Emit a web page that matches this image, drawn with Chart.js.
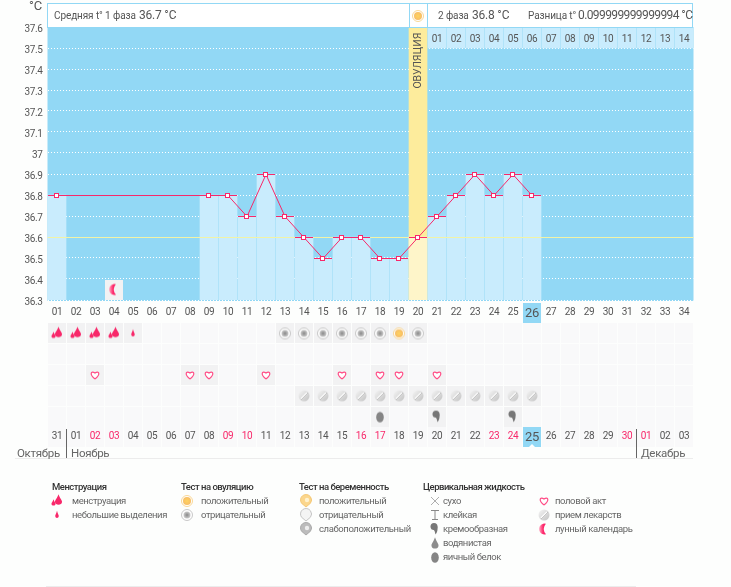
<!DOCTYPE html>
<html lang="ru">
<head>
<meta charset="utf-8">
<title>График температуры</title>
<script src="https://cdn.jsdelivr.net/npm/chart.js@4"></script>
<style>
  html, body { margin: 0; background: #fdfefd; }
  #page { position: relative; width: 731px; height: 587px; overflow: hidden; font-family: Roboto, sans-serif; color: #555; }
  #page canvas.chart { position: absolute; left: 0; }
  .abs { position: absolute; white-space: nowrap; }
  .box { position: absolute; top: 3px; height: 23px; background: #fff; border: 1px solid #92d8f5; box-sizing: content-box; }
  .hdr { font-size: 10px; line-height: 14px; letter-spacing: -0.1px; }
  .val { font-size: 12px; line-height: 14px; letter-spacing: -0.2px; }
  .long { letter-spacing: -0.6px; }
  .unit { font-size: 13px; line-height: 14px; }
  .leg { font-size: 9.5px; line-height: 14px; color: #666; letter-spacing: -0.4px; }
  .title { font-size: 9.5px; line-height: 14px; color: #333; font-weight: 500; letter-spacing: -0.5px; }
  .month { font-size: 11.5px; line-height: 14px; color: #666; letter-spacing: -0.3px; }
</style>
</head>
<body>
<div id="page">
  <canvas class="chart" id="tempChart" width="731" height="323" style="top:0"></canvas>
  <canvas class="chart" id="marksChart" width="731" height="130" style="top:320px"></canvas>
</div>
<script>
const cycleDays = ['01','02','03','04','05','06','07','08','09','10','11','12','13','14','15','16','17','18','19','20','21','22','23','24','25','26','27','28','29','30','31','32','33','34'];
const temperatures = [36.8,null,null,null,null,null,null,null,36.8,36.8,36.7,36.9,36.7,36.6,36.5,36.6,36.6,36.5,36.5,36.6,36.7,36.8,36.9,36.8,36.9,36.8,null,null,null,null,null,null,null,null];
const calendarDays = ['31','01','02','03','04','05','06','07','08','09','10','11','12','13','14','15','16','17','18','19','20','21','22','23','24','25','26','27','28','29','30','01','02','03'];
const redDates = [2,3,9,10,16,17,23,24,30,31];
const phaseTwoDays = ['01','02','03','04','05','06','07','08','09','10','11','12','13','14'];
const ovulationIndex = 19;
const todayIndex = 25;
const moonDays = [3];

const rows = ['tests','blank','sex','pills','fluid'];
const mensesBig = [0,1,2,3];
const mensesSmall = [4];
const testNegative = [12,13,14,15,16,17,19];
const testPositive = [18];
const hearts = [2,7,8,11,15,17,18,20];
const pills = [13,14,15,16,17,18,19,20,21,22,23,24,25];
const fluidEgg = [17];
const fluidCream = [20,24];

const PINK = '#f8286a';
const SKY = '#92d8f5';
const PALE = '#c9ecfd';
const CELL = '#f2f2f3';

function drop(c, x, y, w, h, color) {
  c.fillStyle = color;
  c.beginPath();
  c.moveTo(x, y - h * 0.62);
  c.bezierCurveTo(x + w * 0.2, y - h * 0.2, x + w * 0.55, y, x + w * 0.5, y + h * 0.15);
  c.bezierCurveTo(x + w * 0.5, y + h * 0.5, x - w * 0.5, y + h * 0.5, x - w * 0.5, y + h * 0.15);
  c.bezierCurveTo(x - w * 0.55, y, x - w * 0.2, y - h * 0.2, x, y - h * 0.62);
  c.fill();
}

function ring(c, x, y, outer, inner, edge, core) {
  c.fillStyle = '#fff';
  c.strokeStyle = edge;
  c.lineWidth = 1;
  c.beginPath(); c.arc(x, y, outer, 0, Math.PI * 2); c.fill(); c.stroke();
  const g = c.createRadialGradient(x, y, 0, x, y, inner);
  g.addColorStop(0, core[0]);
  g.addColorStop(1, core[1]);
  c.fillStyle = g;
  c.beginPath(); c.arc(x, y, inner, 0, Math.PI * 2); c.fill();
}

function tag(c, x, y, fill, edge) {
  c.fillStyle = fill;
  c.strokeStyle = edge;
  c.lineWidth = 1;
  c.beginPath();
  c.arc(x, y - 1, 5.5, Math.PI * 0.8, Math.PI * 0.2);
  c.lineTo(x, y + 6);
  c.closePath();
  c.fill(); c.stroke();
}

const iconDraw = {
  mensBig(c, x, y) { drop(c, x + 1.5, y - 0.5, 7, 10, PINK); drop(c, x - 3.5, y + 2, 4, 6, PINK); },
  mensSmall(c, x, y) { drop(c, x, y, 3.5, 7, PINK); },
  ovPos(c, x, y) { ring(c, x, y, 5.5, 4, '#f8d796', ['#ffd35f', '#f7bd66']); },
  ovNeg(c, x, y) { ring(c, x, y, 5.5, 3.5, '#c8c8c8', ['#888', '#ccc']); },
  heart(c, x, y) {
    c.strokeStyle = '#ff4d86';
    c.fillStyle = '#fff';
    c.lineWidth = 1.2;
    c.beginPath();
    c.moveTo(x, y + 4);
    c.bezierCurveTo(x - 6, y - 0.5, x - 4, y - 5, x, y - 2);
    c.bezierCurveTo(x + 4, y - 5, x + 6, y - 0.5, x, y + 4);
    c.fill(); c.stroke();
  },
  pill(c, x, y) {
    const g = c.createLinearGradient(x - 5, y - 5, x + 5, y + 5);
    g.addColorStop(0, '#f4f4f4');
    g.addColorStop(1, '#c4c4c4');
    c.fillStyle = g;
    c.beginPath(); c.arc(x, y, 5.5, 0, Math.PI * 2); c.fill();
    c.strokeStyle = '#fff';
    c.lineWidth = 1.5;
    c.beginPath(); c.moveTo(x - 3, y + 3); c.lineTo(x + 3, y - 3); c.stroke();
    c.strokeStyle = '#aaa';
    c.lineWidth = 0.6;
    c.beginPath(); c.moveTo(x - 3, y + 4); c.lineTo(x + 4, y - 3); c.stroke();
  },
  moon(c, x, y) {
    const g = c.createLinearGradient(x - 5, y, x + 3, y);
    g.addColorStop(0, '#ffb0c8');
    g.addColorStop(0.5, '#ff2a6c');
    g.addColorStop(1, '#f0246a');
    c.fillStyle = g;
    c.beginPath();
    c.arc(x + 0.5, y, 5.5, Math.PI * 0.42, Math.PI * 1.58);
    c.quadraticCurveTo(x - 2.5, y, x + 2, y + 5.2);
    c.fill();
  },
  egg(c, x, y) {
    c.fillStyle = '#858585';
    c.beginPath(); c.ellipse(x, y + 0.5, 3.8, 5.3, 0, 0, Math.PI * 2); c.fill();
  },
  cream(c, x, y) {
    c.fillStyle = '#777';
    c.beginPath(); c.arc(x - 1, y - 2.5, 3.5, 0, Math.PI * 2); c.fill();
    c.beginPath();
    c.moveTo(x + 2.5, y - 2.5);
    c.quadraticCurveTo(x + 3, y + 3, x + 0.5, y + 5.5);
    c.quadraticCurveTo(x + 0.5, y + 2, x - 2, y);
    c.fill();
  },
  water(c, x, y) { drop(c, x, y + 1, 7, 11, '#8c8c8c'); },
  dry(c, x, y) {
    c.strokeStyle = '#999';
    c.lineWidth = 0.8;
    c.beginPath();
    c.moveTo(x - 4, y - 4); c.lineTo(x + 4, y + 4);
    c.moveTo(x + 4, y - 4); c.lineTo(x - 4, y + 4);
    c.stroke();
  },
  sticky(c, x, y) {
    c.strokeStyle = '#888';
    c.lineWidth = 1;
    c.beginPath();
    c.moveTo(x - 4, y - 4.5); c.lineTo(x + 4, y - 4.5);
    c.moveTo(x, y - 4.5); c.lineTo(x, y + 4);
    c.moveTo(x - 3, y + 4.5); c.lineTo(x + 3, y + 4.5);
    c.stroke();
  },
  pregPos(c, x, y) { tag(c, x, y, '#fbd68c', '#f4c877'); c.fillStyle = '#fff2cf'; c.beginPath(); c.arc(x + 1, y - 1, 2.2, 0, Math.PI * 2); c.fill(); },
  pregNeg(c, x, y) { tag(c, x, y, '#f4f4f4', '#c4c4c4'); },
  pregWeak(c, x, y) { tag(c, x, y, '#bcbcbc', '#aaa'); c.fillStyle = '#eee'; c.beginPath(); c.arc(x + 1, y - 1, 2.2, 0, Math.PI * 2); c.fill(); }
};

function makeIcon(name, withCell) {
  const cv = document.createElement('canvas');
  cv.width = 18;
  cv.height = 20;
  const c = cv.getContext('2d');
  if (withCell) {
    c.fillStyle = CELL;
    c.fillRect(0, 0, 18, 20);
  }
  iconDraw[name](c, 9, 10);
  return cv;
}

// crisp point images, built from canvases so they land on whole pixels
function makeLevelTick() {
  const cv = document.createElement('canvas');
  cv.width = 18;
  cv.height = 2;
  const c = cv.getContext('2d');
  c.fillStyle = PINK;
  c.fillRect(0, 1, 18, 1);
  return cv;
}

function makeMarker() {
  const cv = document.createElement('canvas');
  cv.width = 6;
  cv.height = 6;
  const c = cv.getContext('2d');
  c.fillStyle = PINK;
  c.fillRect(0, 1, 5, 5);
  c.fillStyle = '#fff';
  c.fillRect(1, 2, 3, 3);
  return cv;
}

// canvas text in the reference is tighter than Roboto's default
function tightText(chart) {
  chart.ctx.letterSpacing = '-0.4px';
}

// ---- temperature chart ----
const areaPlugin = {
  id: 'area',
  beforeDraw(chart) {
    const { ctx, chartArea: a, scales } = chart;
    tightText(chart);
    ctx.save();
    ctx.fillStyle = SKY;
    ctx.fillRect(a.left, a.top, a.width, a.height + 1);
    // today's box behind the tick label
    ctx.fillRect(scales.x.getPixelForTick(todayIndex) - 9, a.bottom + 3, 18, 20);
    ctx.restore();
  },
  beforeDatasetDraw(chart, args) {
    // half pixel nudge keeps the flat stretches of the curve sharp
    if (chart.data.datasets[args.index].label === 'Кривая') {
      chart.ctx.save();
      chart.ctx.translate(0, 0.5);
    }
  },
  afterDatasetDraw(chart, args) {
    const label = chart.data.datasets[args.index].label;
    if (label === 'Кривая') chart.ctx.restore();
    // yellow norm line runs over the bars but under the curve
    if (label !== 'Температура') return;
    const { ctx, chartArea: a, scales } = chart;
    const y = Math.round(scales.y.getPixelForValue(36.6)) + 0.5;
    ctx.save();
    ctx.strokeStyle = '#f2f3a6';
    ctx.lineWidth = 1;
    ctx.beginPath(); ctx.moveTo(a.left, y); ctx.lineTo(a.right, y); ctx.stroke();
    ctx.restore();
  },
  afterDraw(chart) {
    const { ctx, scales } = chart;
    ctx.save();
    ctx.fillStyle = '#555';
    ctx.font = '10px Roboto';
    ctx.textAlign = 'center';
    ctx.textBaseline = 'middle';
    phaseTwoDays.forEach((d, i) => {
      ctx.fillText(d, scales.x.getPixelForTick(ovulationIndex + 1 + i), scales.y.getPixelForValue(37.55) + 2);
    });
    ctx.translate(scales.x.getPixelForTick(ovulationIndex), scales.y.getPixelForValue(37.44));
    ctx.rotate(-Math.PI / 2);
    ctx.letterSpacing = '0px';
    ctx.font = '10.5px Roboto';
    ctx.fillText('ОВУЛЯЦИЯ', 0, 0);
    ctx.restore();
  }
};

new Chart(document.getElementById('tempChart'), {
  data: {
    labels: cycleDays,
    datasets: [
      {
        type: 'line', label: 'Маркеры', data: temperatures, order: 1, showLine: false,
        pointStyle: makeMarker(), pointRadius: 3
      },
      {
        type: 'line', label: 'Уровни', data: temperatures, order: 2, showLine: false,
        pointStyle: makeLevelTick(), pointRadius: 9
      },
      {
        type: 'line', label: 'Кривая', data: temperatures, order: 3, spanGaps: true,
        borderColor: PINK, borderWidth: 1, pointRadius: 0, tension: 0,
        segment: { borderDash: ctx => (ctx.p1DataIndex - ctx.p0DataIndex > 1 ? [4, 2] : undefined) }
      },
      {
        type: 'line', label: 'Луна', data: cycleDays.map((d, i) => (moonDays.includes(i) ? 36.35 : null)),
        order: 4, showLine: false, pointStyle: makeIcon('moon', true), pointRadius: 9
      },
      {
        type: 'bar', label: 'Температура', data: temperatures, order: 5, grouped: false, barThickness: 18,
        backgroundColor: ctx => (ctx.dataIndex === ovulationIndex ? '#fef5c9' : PALE)
      },
      {
        type: 'bar', label: 'Дни фазы', order: 6, grouped: false, barThickness: 18, backgroundColor: PALE,
        data: cycleDays.map((d, i) => (i > ovulationIndex ? [37.5, 37.6] : null))
      },
      {
        type: 'bar', label: 'Овуляция', order: 7, grouped: false, barThickness: 18, backgroundColor: '#fdec9c',
        data: cycleDays.map((d, i) => (i === ovulationIndex ? [36.3, 37.6] : null))
      }
    ]
  },
  options: {
    responsive: false,
    animation: false,
    layout: { autoPadding: false, padding: { top: 27, left: 0.5, right: 37.5, bottom: 0 } },
    plugins: { legend: { display: false }, tooltip: { enabled: false } },
    scales: {
      x: {
        afterFit: s => { s.height = 23; },
        grid: { display: false, drawTicks: false },
        border: { display: false },
        ticks: {
          autoSkip: false, maxRotation: 0, padding: 6, color: '#555',
          font: ctx => ({ family: 'Roboto', size: ctx.index === todayIndex ? 13 : 10 })
        }
      },
      y: {
        min: 36.3,
        max: 37.6,
        afterFit: s => { s.width = 47; },
        grid: {
          drawTicks: false,
          color: ctx => {
            const v = +ctx.tick.value.toFixed(1);
            return v === 37.6 || v === 36.6 ? 'transparent' : '#fff';
          }
        },
        border: { display: false, dash: [1, 2] },
        ticks: {
          stepSize: 0.1, padding: 5, color: '#555',
          // two lines with a 4px line height put the label 2px under its grid line
          callback: v => ['', String(+v.toFixed(1))],
          font: { family: 'Roboto', size: 10, lineHeight: '4px' }
        }
      }
    }
  },
  plugins: [areaPlugin]
});

// ---- marks table under the chart ----
function marks(days, rowName, icon) {
  return {
    data: calendarDays.map((d, i) => (days.includes(i) ? rowName : null)),
    showLine: false,
    pointStyle: makeIcon(icon, true),
    pointRadius: 9
  };
}

const cellsPlugin = {
  id: 'cells',
  // has to run before the axis paints its labels
  beforeDraw(chart) {
    const { ctx, scales: { x, y } } = chart;
    const pitch = y.getPixelForTick(1) - y.getPixelForTick(0);
    tightText(chart);
    ctx.save();
    calendarDays.forEach((d, i) => {
      const cx = x.getPixelForTick(i);
      rows.forEach((r, j) => {
        ctx.fillStyle = '#f9f9fa';
        ctx.fillRect(cx - 9, Math.round(y.getPixelForTick(j)) - 10, 18, 20);
      });
      const dateY = Math.round(y.getPixelForTick(rows.length - 1) + pitch);
      ctx.fillStyle = i === todayIndex ? SKY : '#f9f9fa';
      ctx.fillRect(cx - 9, dateY - 10, 18, 20);
      if (i === todayIndex) {
        ctx.fillStyle = '#fff';
        ctx.beginPath();
        ctx.moveTo(cx - 3, dateY + 10); ctx.lineTo(cx, dateY + 7); ctx.lineTo(cx + 3, dateY + 10);
        ctx.fill();
      }
    });
    ctx.restore();
  }
};

new Chart(document.getElementById('marksChart'), {
  type: 'line',
  data: {
    labels: calendarDays,
    datasets: [
      marks(mensesBig, 'tests', 'mensBig'),
      marks(mensesSmall, 'tests', 'mensSmall'),
      marks(testNegative, 'tests', 'ovNeg'),
      marks(testPositive, 'tests', 'ovPos'),
      marks(hearts, 'sex', 'heart'),
      marks(pills, 'pills', 'pill'),
      marks(fluidEgg, 'fluid', 'egg'),
      marks(fluidCream, 'fluid', 'cream')
    ]
  },
  options: {
    responsive: false,
    animation: false,
    layout: { autoPadding: false, padding: { top: 3, left: 47.5, right: 37.5, bottom: 0 } },
    plugins: { legend: { display: false }, tooltip: { enabled: false } },
    scales: {
      x: {
        offset: true,
        afterFit: s => { s.height = 23; },
        grid: { display: false, drawTicks: false },
        border: { display: false },
        ticks: {
          autoSkip: false, maxRotation: 0, padding: 3,
          color: ctx => (redDates.includes(ctx.index) ? PINK : '#555'),
          font: ctx => ({ family: 'Roboto', size: ctx.index === todayIndex ? 13 : 10 })
        }
      },
      y: { type: 'category', labels: rows, offset: true, display: false }
    }
  },
  plugins: [cellsPlugin]
});

// ---- header, month names and legend are plain text ----
const page = document.getElementById('page');

function addText(text, x, y, cls) {
  const el = document.createElement('div');
  el.className = 'abs ' + cls;
  el.style.left = x + 'px';
  el.style.top = y + 'px';
  el.textContent = text;
  page.appendChild(el);
}

function addBox(left, width) {
  const el = document.createElement('div');
  el.className = 'box';
  el.style.left = left + 'px';
  el.style.width = width + 'px';
  page.appendChild(el);
}

function addLine(left, top, width, height, color) {
  const el = document.createElement('div');
  el.className = 'abs';
  el.style.cssText += `left:${left}px;top:${top}px;width:${width}px;height:${height}px;background:${color}`;
  page.appendChild(el);
}

function addIcon(name, cx, cy) {
  const cv = makeIcon(name, false);
  cv.style.cssText = `position:absolute;left:${cx - 9}px;top:${cy - 10}px`;
  page.appendChild(cv);
}

addBox(47, 361);
addBox(409, 17);
addBox(427, 264);
addIcon('ovPos', 418, 16);
addText('°C', 29, -1, 'unit');
addText('Средняя t° 1 фаза', 54, 9, 'hdr');
addText('36.7 °C', 139, 8, 'val');
addText('2 фаза', 438, 9, 'hdr');
addText('36.8 °C', 472, 8, 'val');
addText('Разница t°', 528, 9, 'hdr');
addText('0.099999999999994 °C', 578, 8, 'val long');

addLine(15, 458, 678, 1, '#ececec');
addLine(66, 429, 1, 29, '#666');
addLine(636, 429, 1, 29, '#666');
addText('Октябрь', 17, 446, 'month');
addText('Ноябрь', 71, 446, 'month');
addText('Декабрь', 641, 446, 'month');

const legendGroups = [
  { title: 'Менструация', x: 52, iconX: 57, textX: 72, items: [['mensBig', 'менструация'], ['mensSmall', 'небольшие выделения']] },
  { title: 'Тест на овуляцию', x: 181, iconX: 187, textX: 201, items: [['ovPos', 'положительный'], ['ovNeg', 'отрицательный']] },
  { title: 'Тест на беременность', x: 299, iconX: 306, textX: 319, items: [['pregPos', 'положительный'], ['pregNeg', 'отрицательный'], ['pregWeak', 'слабоположительный']] },
  { title: 'Цервикальная жидкость', x: 423, iconX: 435, textX: 443, items: [['dry', 'сухо'], ['sticky', 'клейкая'], ['cream', 'кремообразная'], ['water', 'водянистая'], ['egg', 'яичный белок']] },
  { title: '', x: 0, iconX: 544, textX: 555, items: [['heart', 'половой акт'], ['pill', 'прием лекарств'], ['moon', 'лунный календарь']] }
];

legendGroups.forEach(g => {
  if (g.title) addText(g.title, g.x, 480, 'title');
  g.items.forEach((item, i) => {
    addIcon(item[0], g.iconX, 501 + i * 14);
    addText(item[1], g.textX, 494 + i * 14, 'leg');
  });
});
addLine(46, 586, 590, 1, '#ececec');
</script>
</body>
</html>
